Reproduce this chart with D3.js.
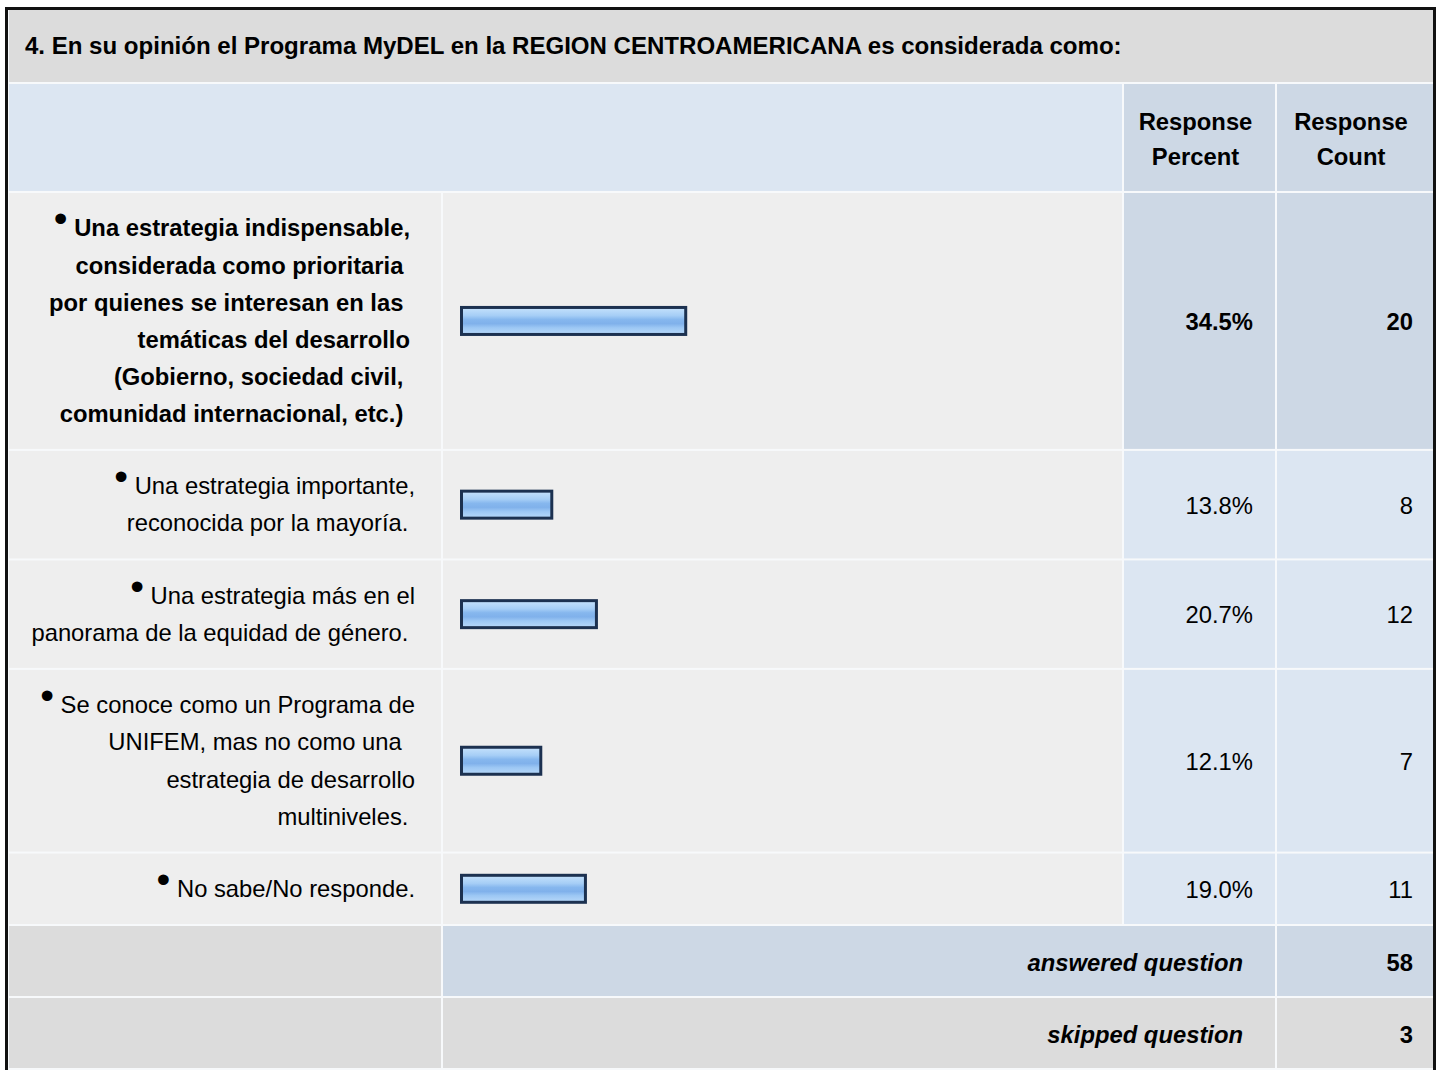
<!DOCTYPE html>
<html>
<head>
<meta charset="utf-8">
<script src="https://cdn.jsdelivr.net/npm/d3@7"></script>
<style>
body { margin: 0; background: #fff; }
text { font-family: "Liberation Sans", Arial, sans-serif; white-space: pre; fill: #000; }
</style>
</head>
<body>
<div id="chart"></div>
<script>
const title = "4. En su opinión el Programa MyDEL en la REGION CENTROAMERICANA es considerada como:";
const headers = [["Response", "Percent"], ["Response", "Count"]];
const answers = [
    ["Una estrategia indispensable,", "considerada como prioritaria ", "por quienes se interesan en las ", "temáticas del desarrollo", "(Gobierno, sociedad civil, ", "comunidad internacional, etc.) "],
    ["Una estrategia importante,", "reconocida por la mayoría. "],
    ["Una estrategia más en el", "panorama de la equidad de género. "],
    ["Se conoce como un Programa de", "UNIFEM, mas no como una  ", "estrategia de desarrollo", "multiniveles. "],
    ["No sabe/No responde."]
];
const percents = [34.5, 13.8, 20.7, 12.1, 19.0];
const counts = [20, 8, 12, 7, 11];
const summaryLabels = ["answered question", "skipped question"];
const summaryCounts = [58, 3];

const W = 1440, H = 1070;
const fs = 23, sx = 1.035, lh = 37.1;
const gap = 2;
const col = {label: [9, 441], bar: [443, 1122], pct: [1124, 1275], cnt: [1277, 1433]};
const C = {title: "#dcdcdc", head: "#dce6f2", headDark: "#cdd8e5", row: "#eeeeee",
           cell: "#dce6f2", cellHi: "#cdd8e5", sum: "#dcdcdc", sep: "#f7f9fb"};

const svg = d3.select("#chart").append("svg")
    .attr("width", W).attr("height", H);

const defs = svg.append("defs");
const grad = defs.append("linearGradient").attr("id", "barGrad")
    .attr("x1", 0).attr("y1", 0).attr("x2", 0).attr("y2", 1);
[[0, "#c6e2fc"], [0.3, "#a6cef6"], [0.45, "#86b7ee"], [0.6, "#80b1eb"], [0.75, "#9cc7f4"], [1, "#b8d9f9"]]
    .forEach(s => grad.append("stop").attr("offset", s[0]).attr("stop-color", s[1]));

svg.append("rect").attr("width", W).attr("height", H).attr("fill", C.sep);

// text helper, stretched a little horizontally like the source; y is the visual centre
function txt(g, x, y, s, anchor, weight, style, stretch) {
    return g.append("text")
        .attr("transform", `translate(${x},${y + 0.36 * fs}) scale(${stretch || sx},1)`)
        .attr("text-anchor", anchor || "start")
        .style("font-size", fs + "px")
        .style("font-weight", weight || "normal")
        .style("font-style", style || "normal")
        .text(s);
}

function cell(x0, x1, y0, y1, fill) {
    svg.append("rect").attr("x", x0).attr("y", y0)
        .attr("width", x1 - x0).attr("height", y1 - y0).attr("fill", fill);
}

// title
cell(col.label[0], col.cnt[1], 9, 82, C.title);
txt(svg, 25, 46, title, "start", "bold", "normal", 1.046);

// header
const h0 = 84, h1 = 191;
cell(col.label[0], col.bar[1], h0, h1, C.head);
cell(col.pct[0], col.pct[1], h0, h1, C.headDark);
cell(col.cnt[0], col.cnt[1], h0, h1, C.headDark);
[col.pct, col.cnt].forEach((c, i) => {
    headers[i].forEach((s, j) => txt(svg, (c[0] + c[1]) / 2 - 4, 122 + j * 35, s, "middle", "bold"));
});

// answer rows
const maxP = d3.max(percents);
const x = d3.scaleLinear().domain([0, 100]).range([0, 647]);
const barX = 460, barH = 30, barMin = 4;
let y = h1 + gap;
answers.forEach((lines, i) => {
    const h = lines.length * lh + 33.3;
    const y0 = y, y1 = y + h, cy = (y0 + y1) / 2;
    const hi = percents[i] === maxP;
    const wt = hi ? "bold" : "normal";
    cell(col.label[0], col.label[1], y0, y1, C.row);
    cell(col.bar[0], col.bar[1], y0, y1, C.row);
    cell(col.pct[0], col.pct[1], y0, y1, hi ? C.cellHi : C.cell);
    cell(col.cnt[0], col.cnt[1], y0, y1, hi ? C.cellHi : C.cell);

    const ax = hi ? 410 : 415;
    const top = cy - (lines.length - 1) * lh / 2;
    lines.forEach((s, j) => {
        const t = txt(svg, ax, top + j * lh, "", "end", wt);
        if (j === 0) {
            t.append("tspan").attr("dy", "-4").style("font-size", "38px").style("font-weight", "normal").text("•");
            t.append("tspan").attr("dy", "4").text(" " + s);
        } else {
            t.text(s);
        }
    });

    svg.append("rect")
        .attr("x", barX + 1.5).attr("y", cy - barH / 2 + 1.5)
        .attr("width", barMin + x(percents[i]) - 3).attr("height", barH - 3)
        .attr("fill", "url(#barGrad)")
        .attr("stroke", "#1c3150").attr("stroke-width", 3);

    txt(svg, 1253, cy + 1, percents[i].toFixed(1) + "%", "end", wt);
    txt(svg, 1413, cy + 1, String(counts[i]), "end", wt);
    y = y1 + gap;
});

// summary rows
summaryLabels.forEach((s, i) => {
    const y0 = y, y1 = y + 70, cy = (y0 + y1) / 2;
    cell(col.label[0], col.label[1], y0, y1, C.sum);
    cell(col.bar[0], col.pct[1], y0, y1, i === 0 ? C.cellHi : C.sum);
    cell(col.cnt[0], col.cnt[1], y0, y1, i === 0 ? C.cellHi : C.sum);
    txt(svg, 1243, cy + 2, s, "end", "bold", "italic");
    txt(svg, 1413, cy + 2, String(summaryCounts[i]), "end", "bold");
    y = y1 + gap;
});

// outer frame
svg.append("path")
    .attr("d", `M6.5,${H + 5}V8.5H1434.5V${H + 5}`)
    .attr("fill", "none").attr("stroke", "#111").attr("stroke-width", 3);
svg.append("rect").attr("x", 0).attr("y", 0).attr("width", W).attr("height", 7).attr("fill", "#fff");
svg.append("rect").attr("x", 0).attr("y", 0).attr("width", 5).attr("height", H).attr("fill", "#fff");
svg.append("rect").attr("x", 1436).attr("y", 0).attr("width", 4).attr("height", H).attr("fill", "#fff");
</script>
</body>
</html>
